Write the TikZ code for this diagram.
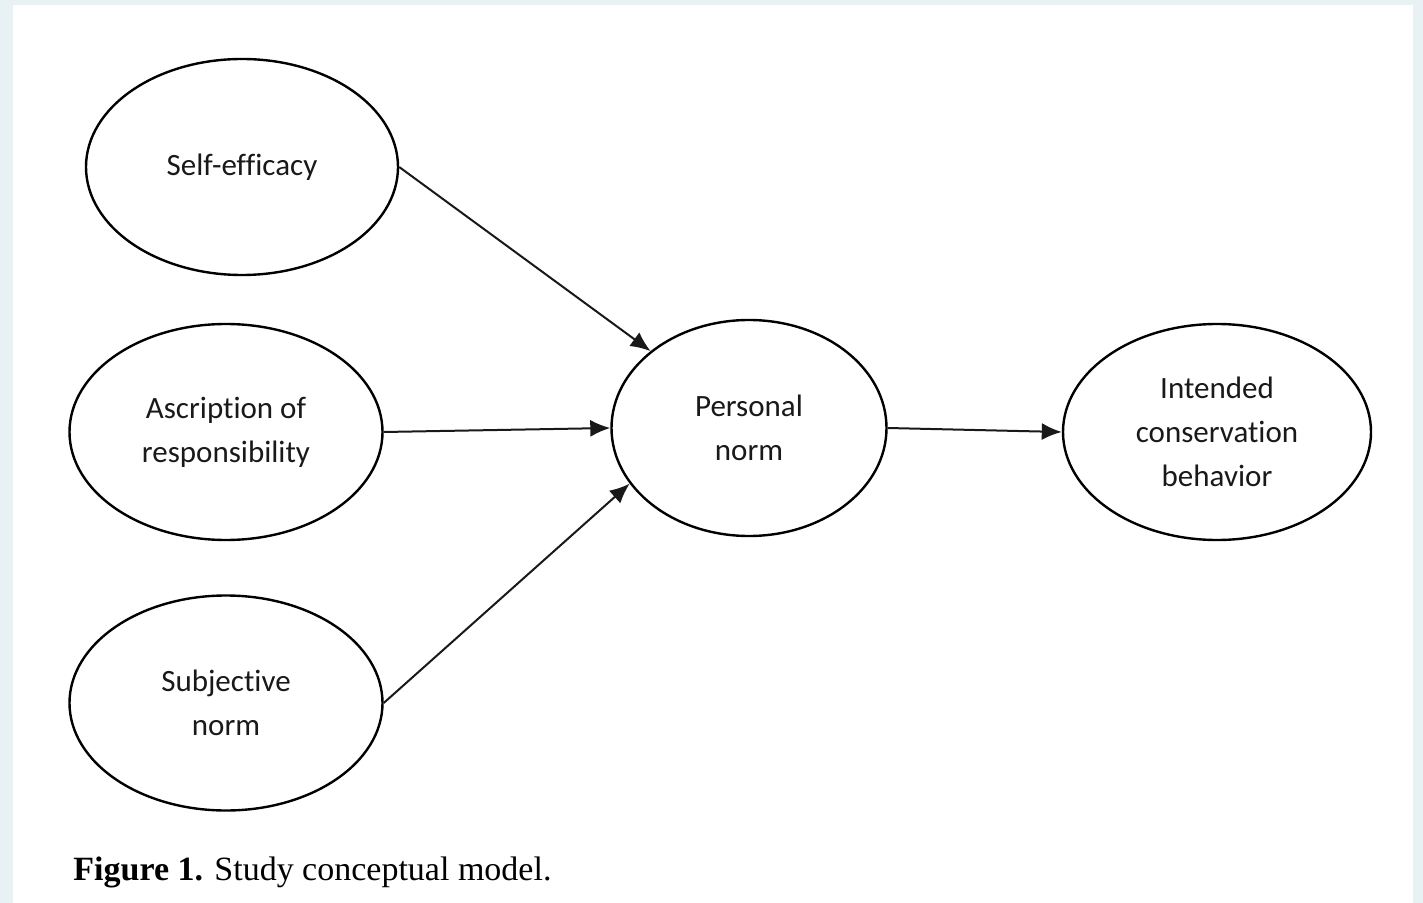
\documentclass[tikz,border=0pt]{standalone}
\usepackage{fontspec}
\setmainfont{Carlito}[RawFeature={-liga;-clig;-dlig}]
\newfontfamily\capfont{Liberation Serif}
\usetikzlibrary{shapes.geometric,arrows.meta}
\definecolor{bgframe}{HTML}{E8F1F4}
\begin{document}
\begin{tikzpicture}[x=0.5pt,y=-0.5pt,
  construct/.style={draw=black, line width=1.2pt, ellipse, inner sep=0pt,
    align=center, font=\fontsize{15.5pt}{22pt}\selectfont, text=black!90},
  path/.style={draw=black!90, line width=1pt, -{Latex[length=10pt,width=8.5pt]}}]
\fill[bgframe] (0,0) rectangle (1423,903);
\fill[white] (13,5) rectangle (1413,903);
\useasboundingbox (0,0) rectangle (1423,903);
\node[construct, minimum width=156pt, minimum height=108pt] (se) at (242,167) {Self-efficacy};
\node[construct, minimum width=156.5pt, minimum height=108pt] (ar) at (226,432) {Ascription of\\responsibility};
\node[construct, minimum width=156.5pt, minimum height=107.5pt] (sn) at (226,703) {Subjective\\norm};
\node[construct, minimum width=137.5pt, minimum height=108pt] (pn) at (749,428) {Personal\\norm};
\node[construct, minimum width=154pt, minimum height=108pt] (ib) at (1217,432) {Intended\\conservation\\behavior};
\draw[path] (se.east) -- (pn.142);
\draw[path] (ar.east) -- (pn.west);
\draw[path] (sn.east) -- (pn.205);
\draw[path] (pn.east) -- (ib.west);
\node[anchor=base west, inner sep=0pt, font=\capfont\fontsize{17pt}{20pt}\selectfont] (cap) at (73,880) {\textbf{Figure 1.} Study conceptual model.};
\end{tikzpicture}
\end{document}
